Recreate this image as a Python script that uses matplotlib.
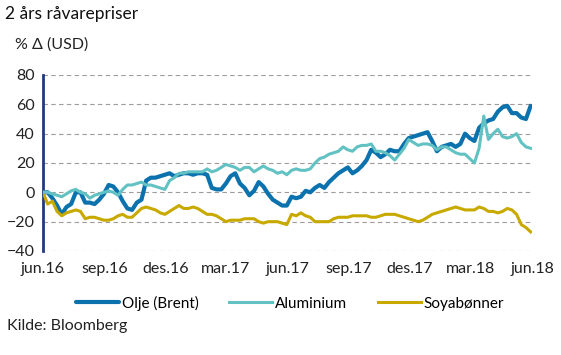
import matplotlib
matplotlib.use("Agg")
import matplotlib.pyplot as plt
import matplotlib.dates as mdates
import pandas as pd

plt.rcParams['font.family'] = ['Lato', 'DejaVu Sans']

start_date = "2016-06-01"
n_weeks = 105

oil = [0, 0, -4, -9, -15, -10, -8, 0, 0, -7, -7, -8, -5, -1, 5, 4, 0, -6, -11, -12,
       -7, -5, 8, 10, 10, 11, 12, 13, 11, 12, 13, 13, 12, 13, 13, 12, 3, 2, 2, 6,
       11, 13, 6, 3, -2, 1, 7, 4, -1, -5, -7, -9, -9, -3, -4, -3, 1, 0, 3, 5,
       3, 7, 10, 13, 15, 17, 13, 15, 18, 22, 29, 27, 24, 26, 29, 28, 28, 33, 37, 38,
       39, 40, 41, 35, 28, 31, 32, 33, 31, 33, 40, 37, 35, 44, 47, 49, 50, 55, 58, 59,
       54, 54, 51, 50, 59]

aluminium = [0, 0, -1, -2, -3, -1, 1, 2, 0, -1, -4, -2, -1, 0, 1, 0, -2, 2, 5, 5,
             6, 7, 5, 5, 4, 3, 2, 8, 10, 13, 13, 14, 14, 14, 14, 16, 14, 15, 17, 19,
             18, 17, 15, 17, 17, 14, 16, 18, 16, 15, 13, 14, 12, 15, 16, 15, 15, 16, 20, 23,
             24, 26, 27, 28, 31, 29, 28, 31, 32, 32, 33, 28, 28, 27, 25, 22, 26, 30, 36, 34,
             32, 33, 33, 32, 29, 31, 31, 29, 27, 26, 26, 23, 20, 30, 52, 36, 40, 43, 38, 37,
             38, 40, 34, 31, 30]

soy = [0, -8, -6, -13, -16, -14, -13, -12, -13, -18, -17, -17, -18, -19, -19, -18, -16, -15, -17, -17,
       -14, -11, -10, -11, -12, -14, -15, -13, -11, -9, -11, -11, -10, -11, -13, -15, -15, -16, -18, -20,
       -19, -19, -19, -18, -18, -18, -20, -21, -20, -20, -20, -21, -22, -15, -16, -14, -16, -17, -20, -20,
       -20, -20, -18, -17, -17, -17, -16, -16, -16, -16, -17, -17, -16, -15, -15, -15, -16, -17, -18, -19,
       -20, -19, -17, -15, -14, -13, -12, -11, -10, -11, -12, -12, -12, -10, -11, -13, -13, -14, -13, -11,
       -12, -15, -22, -24, -27]

series_names = ["Olje (Brent)", "Aluminium", "Soyabønner"]
tick_dates = ["2016-06-01", "2016-09-01", "2016-12-01", "2017-03-01", "2017-06-01",
              "2017-09-01", "2017-12-01", "2018-03-01", "2018-06-01"]
tick_labels = ["jun.16", "sep.16", "des.16", "mar.17", "jun.17",
               "sep.17", "des.17", "mar.18", "jun.18"]
y_ticks = [-40, -20, 0, 20, 40, 60, 80]

dates = pd.date_range(start_date, periods=n_weeks, freq="7D")

fig = plt.figure(figsize=(5.61, 3.55), dpi=100)
ax = fig.add_axes([43/561, 1 - 251/355, 489/561, 176/355])

c_oil = "#0b72ae"
c_alu = "#62c2c3"
c_soy = "#c8a900"

ax.plot(dates, oil, color=c_oil, lw=3.0, label=series_names[0], solid_capstyle="round", zorder=3)
ax.plot(dates, aluminium, color=c_alu, lw=2.2, label=series_names[1], zorder=4)
ax.plot(dates, soy, color=c_soy, lw=2.2, label=series_names[2], zorder=3)

ax.set_ylim(-40, 80)
ax.set_yticks(y_ticks)
ax.set_xlim(pd.Timestamp("2016-06-01"), pd.Timestamp("2018-06-01"))
ax.set_xticks(pd.to_datetime(tick_dates))
ax.set_xticklabels(tick_labels)

for s in ["top", "right", "bottom"]:
    ax.spines[s].set_visible(False)
ax.spines["left"].set_color("#1f3b7a")
ax.spines["left"].set_linewidth(2.0)

ax.grid(axis="y", color="#a09a9a", linestyle=(0, (4, 3)), linewidth=0.8)
ax.set_axisbelow(True)
ax.tick_params(axis="both", length=0, labelsize=11.5, colors="#222222")
ax.tick_params(axis="x", pad=8)
ax.tick_params(axis="y", pad=6)

fig.text(5/561, 1 - 14/355, "2 års råvarepriser", fontsize=12.5,
         color="#111111", va="center", ha="left")
fig.text(15/561, 1 - 45/355, "% Δ (USD)", fontsize=11.5, color="#222222", va="center", ha="left")
fig.text(7/561, 1 - 326/355, "Kilde: Bloomberg", fontsize=11.5, color="#222222", va="center", ha="left")

fig.legend(loc="center", bbox_to_anchor=(0.517, 1 - 303/355), ncol=3, frameon=False,
           handlelength=2.8, columnspacing=2.0, handletextpad=0.2, fontsize=11)

fig.savefig("out.png", dpi=100)
